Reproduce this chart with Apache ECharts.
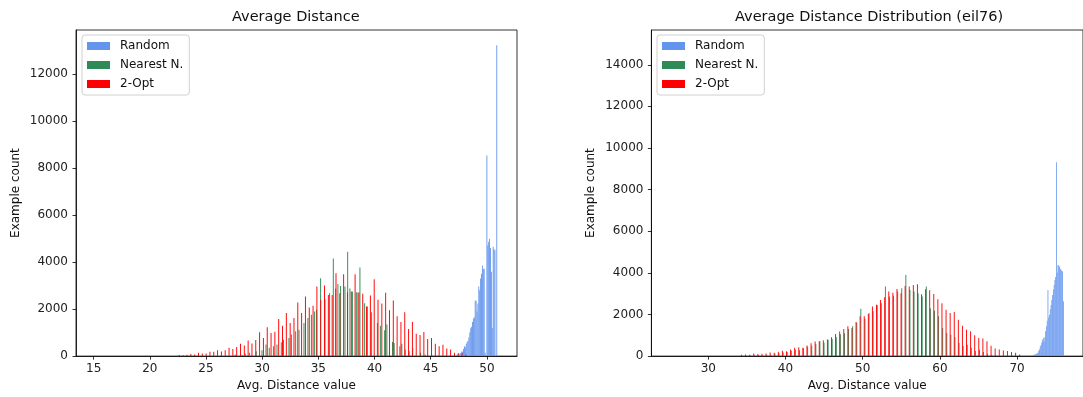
<!DOCTYPE html>
<html>
<head>
<meta charset="utf-8">
<script src="https://cdn.jsdelivr.net/npm/echarts@6/dist/echarts.min.js"></script>
<style>
  html, body { margin: 0; padding: 0; background: #fff; }
  #chart { width: 1083px; height: 397px; }
</style>
</head>
<body>
<div id="chart"></div>
<script>
'use strict';

const FONT = 'DejaVu Sans';
const NAMES = ['Random', 'Nearest N.', '2-Opt'];
const COLORS = ['#6495ED', '#2E8B57', '#FF0000'];

// --- left panel: "Average Distance" ---
const leftTicks = [15, 20, 25, 30, 35, 40, 45, 50];
const leftCountTicks = [0, 2000, 4000, 6000, 8000, 10000, 12000];

// bins given as first bin centre + bin spacing
const leftRandomStart = 46.8;
const leftRandomStep = 0.08;
const leftRandom = [20, 0, 30, 20, 40, 30, 60, 50, 80, 100, 90, 130, 200, 180, 300, 420, 380, 520,
  600, 650, 800, 1000, 1180, 1250, 1450, 1600, 1650, 2370, 2350, 1900, 2240, 2960, 2800, 3300,
  3500, 3850, 3700, 3720, 150, 0, 8530, 4700, 4860, 4990, 4600, 3590, 1200, 4650, 4560, 4500, 0, 13220];

const leftNearestX = [27.6, 28.2, 28.5, 28.88, 29.47, 29.98, 30.34, 30.63, 31.0, 31.32, 31.7, 31.9,
  32.38, 32.6, 32.98, 33.28, 33.72, 34.07, 34.38, 34.67, 34.85, 35.2, 35.59, 36.0, 36.33, 36.54,
  36.74, 36.98, 37.37, 37.61, 37.81, 38.03, 38.38, 38.52, 38.7, 39.12, 39.36, 39.74, 40.25, 40.52,
  40.9, 41.1, 41.6, 41.75, 42.25, 42.43, 42.73, 43.08, 43.4, 44.1, 44.5, 45.1];
const leftNearest = [70, 60, 100, 140, 210, 250, 490, 350, 420, 490, 590, 700,
  775, 915, 1055, 1125, 1410, 1620, 1760, 1900, 1970, 3310, 2420, 2670, 4150, 2880,
  3070, 2980, 2960, 4440, 2880, 2750, 2720, 2700, 3770, 2250, 2110, 1870, 1410, 1290,
  1100, 1340, 600, 560, 420, 520, 280, 210, 340, 140, 70, 60];

const leftOptStart = 22.63;
const leftOptStep = 0.34;
const leftOpt = [50, 40, 60, 90, 70, 140, 112, 110, 180, 180, 250, 200, 250, 350, 300, 390, 520, 450,
  660, 540, 690, 1010, 770, 1225, 985, 1040, 1575, 1290, 1830, 1410, 1620, 2280, 1830, 2530, 2070,
  2140, 2960, 2400, 3000, 2600, 2600, 3520, 2675, 3480, 2700, 2750, 3480, 2700, 2650, 2110, 2580,
  3270, 2400, 2240, 2690, 1950, 2370, 1700, 1450, 1870, 1150, 1450, 950, 900, 1030, 730, 770, 520,
  420, 480, 320, 280, 140, 130, 120, 60];

// --- right panel: "Average Distance Distribution (eil76)" ---
const rightTicks = [30, 40, 50, 60, 70];
const rightCountTicks = [0, 2000, 4000, 6000, 8000, 10000, 12000, 14000];

const rightRandomStart = 71.9;
const rightRandomStep = 0.1;
const rightRandom = [20, 30, 40, 60, 76, 90, 110, 130, 157, 250, 330, 477, 520, 650, 780, 873, 700,
  907, 1200, 1430, 1700, 3180, 1850, 1990, 2250, 2460, 2700, 2940, 3200, 3420, 3660, 3800, 9310,
  4000, 4380, 4350, 4300, 4200, 4140, 4100, 4060, 2630];

const rightNearestStart = 35.45;
const rightNearestStep = 0.53;
const rightNearest = [30, 40, 50, 40, 70, 60, 110, 140, 170, 200, 260, 300, 280, 380, 450, 500, 580,
  715, 640, 780, 820, 900, 1050, 1100, 1300, 1430, 1600, 2270, 1800, 2070, 2150, 2460, 2540, 3340,
  2860, 2900, 3100, 3260, 3900, 3180, 3100, 3020, 2860, 3340, 2300, 2180, 1910, 1350, 1110, 1030,
  900, 635, 480, 550, 400, 240, 300, 200, 110, 60, 40];

const rightOptStart = 34.3;
const rightOptStep = 0.53;
const rightOpt = [60, 80, 60, 120, 100, 110, 130, 170, 160, 210, 260, 230, 320, 400, 430, 400, 510,
  620, 700, 715, 760, 795, 900, 1065, 1180, 1300, 1430, 1350, 1640, 1910, 1910, 2020, 2385, 2465,
  2700, 2830, 3100, 3050, 3230, 3020, 3370, 3340, 3420, 3450, 2970, 3210, 3160, 2990, 2730, 2545,
  2225, 2070, 2115, 1750, 1460, 1270, 1190, 1000, 875, 840, 715, 500, 365, 320, 270, 240, 200, 160, 80];

function binned(start, step, values) {
  return values.map((v, i) => [+(start + i * step).toFixed(3), v]);
}
function paired(xs, values) {
  return xs.map((x, i) => [x, values[i]]);
}

function histSeries(name, gridIndex, data, barW) {
  const color = COLORS[NAMES.indexOf(name)];
  return {
    type: 'custom',
    name,
    xAxisIndex: gridIndex,
    yAxisIndex: gridIndex,
    clip: true,
    itemStyle: { color },
    data,
    renderItem(params, api) {
      const x = api.value(0);
      const top = api.coord([x - barW / 2, api.value(1)]);
      const base = api.coord([x + barW / 2, 0]);
      return {
        type: 'rect',
        shape: { x: top[0], y: top[1], width: base[0] - top[0], height: base[1] - top[1] },
        style: { fill: color }
      };
    }
  };
}

const tickText = { fontFamily: FONT, fontSize: 12, color: '#222', formatter: (v) => String(v) };
const lineStyle = { color: '#000', width: 0.8 };

function xAxisFor(gridIndex, min, max, ticks) {
  return {
    type: 'value', gridIndex, min, max,
    name: 'Avg. Distance value', nameLocation: 'middle', nameGap: 23,
    nameTextStyle: { fontFamily: FONT, fontSize: 12, color: '#111' },
    axisLine: { show: true, lineStyle },
    axisTick: { show: true, inside: false, length: 3.5, lineStyle, customValues: ticks },
    axisLabel: Object.assign({ margin: 7, customValues: ticks }, tickText),
    splitLine: { show: false }
  };
}

function yAxisFor(gridIndex, max, ticks, gap) {
  return {
    type: 'value', gridIndex, min: 0, max,
    name: 'Example count', nameLocation: 'middle', nameGap: gap,
    nameTextStyle: { fontFamily: FONT, fontSize: 12, color: '#111' },
    axisLine: { show: true, onZero: false, lineStyle },
    axisTick: { show: true, inside: false, length: 3.5, lineStyle, customValues: ticks },
    axisLabel: Object.assign({ margin: 8, customValues: ticks }, tickText),
    splitLine: { show: false }
  };
}

function legendAt(left) {
  return {
    left, top: 35, orient: 'vertical',
    data: NAMES,
    icon: 'rect', itemWidth: 23, itemHeight: 8, itemGap: 5,
    padding: [4, 6, 4, 5],
    borderColor: '#d0d0d0', borderWidth: 1, borderRadius: 3,
    backgroundColor: 'rgba(255,255,255,0.8)',
    selectedMode: false,
    textStyle: { fontFamily: FONT, fontSize: 12, color: '#111', lineHeight: 14, padding: [0, 0, 0, 5] }
  };
}

const chart = echarts.init(document.getElementById('chart'), null, { renderer: 'canvas' });

chart.setOption({
  animation: false,
  backgroundColor: '#fff',
  title: [
    { text: 'Average Distance', left: 232, top: 10, padding: 0,
      textStyle: { fontFamily: FONT, fontSize: 14.5, fontWeight: 'normal', color: '#111' } },
    { text: 'Average Distance Distribution (eil76)', left: 735, top: 10, padding: 0,
      textStyle: { fontFamily: FONT, fontSize: 14.5, fontWeight: 'normal', color: '#111' } }
  ],
  legend: [legendAt(82), legendAt(657)],
  grid: [
    { left: 76, right: 566, top: 30, bottom: 38, show: true, borderColor: '#000', borderWidth: 0.8 },
    { left: 651.4, right: -5.6, top: 30, bottom: 38, show: true, borderColor: '#000', borderWidth: 0.8 }
  ],
  xAxis: [
    xAxisFor(0, 13.43, 52.68, leftTicks),
    xAxisFor(1, 22.63, 78.54, rightTicks)
  ],
  yAxis: [
    yAxisFor(0, 13870, leftCountTicks, 54),
    yAxisFor(1, 15670, rightCountTicks, 55)
  ],
  series: [
    histSeries('Random', 0, binned(leftRandomStart, leftRandomStep, leftRandom), 0.08),
    histSeries('Nearest N.', 0, paired(leftNearestX, leftNearest), 0.085),
    histSeries('2-Opt', 0, binned(leftOptStart, leftOptStep, leftOpt), 0.085),
    histSeries('Random', 1, binned(rightRandomStart, rightRandomStep, rightRandom), 0.1),
    histSeries('Nearest N.', 1, binned(rightNearestStart, rightNearestStep, rightNearest), 0.12),
    histSeries('2-Opt', 1, binned(rightOptStart, rightOptStep, rightOpt), 0.12)
  ]
});
</script>
</body>
</html>
